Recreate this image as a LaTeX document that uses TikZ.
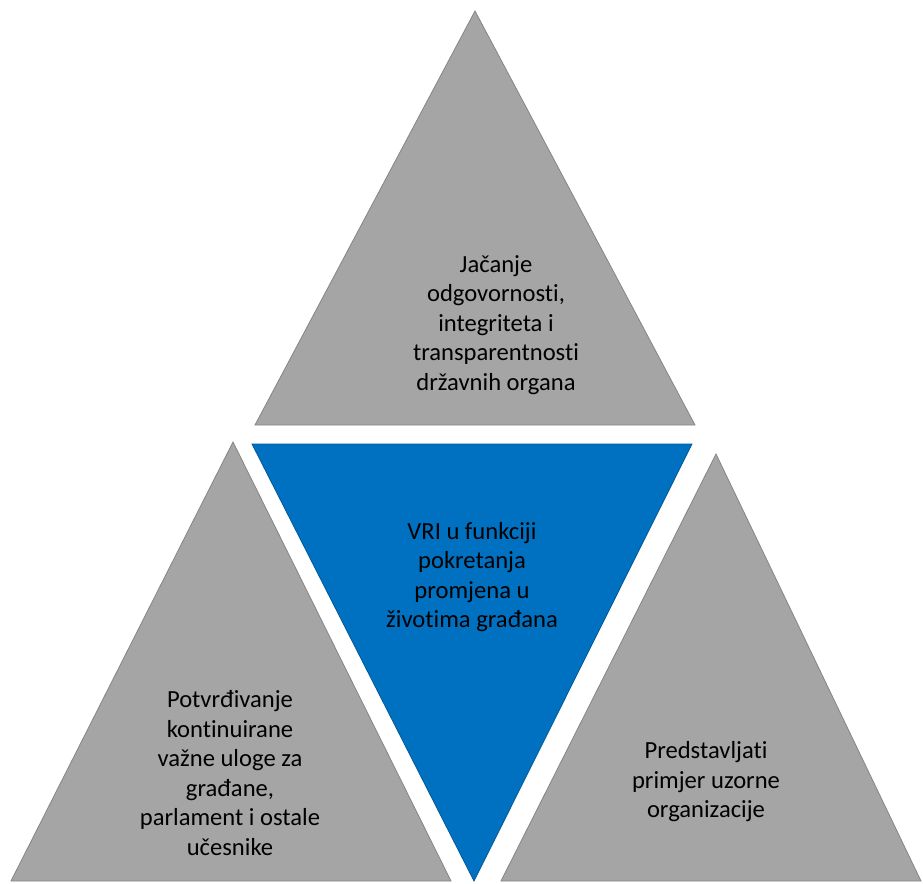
\documentclass[tikz,border=0pt]{standalone}
\usepackage{fontspec}
\setmainfont[Ligatures=NoCommon]{Carlito}
\usepackage{xcolor}
\usepackage{tikz}

\definecolor{sivo}{HTML}{A5A5A5}
\definecolor{sivorub}{HTML}{858585}
\definecolor{plavo}{HTML}{0070C0}
\definecolor{plavorub}{HTML}{005A9A}

\tikzset{
  sivi/.style={fill=sivo, draw=sivorub, line width=0.8pt},
  plavi/.style={fill=plavo, draw=plavorub, line width=0.8pt},
  tekst/.style={align=center, font=\fontsize{24.6}{29.5}\selectfont, text=black}
}

\begin{document}
\begin{tikzpicture}[x=1pt, y=-1pt]
    \useasboundingbox (0,0) rectangle (923,883);
    % gornji trokut
    \draw [sivi] (475,11) -- (695,425) -- (255,425) -- cycle;
    % srednji (plavi) trokut
    \draw [plavi] (252,444) -- (692,444) -- (474,881) -- cycle;
    % lijevi trokut
    \draw [sivi] (233,442) -- (451,881) -- (11,881) -- cycle;
    % desni trokut
    \draw [sivi] (716,454) -- (921,881) -- (501,881) -- cycle;

    \node [tekst] (gore) at (496,325)
      {Jačanje\\odgovornosti,\\integriteta i\\transparentnosti\\državnih organa};
    \node [tekst] (sredina) at (472,577)
      {VRI u funkciji\\pokretanja\\promjena u\\životima građana};
    \node [tekst] (lijevo) at (230,773)
      {Potvrđivanje\\kontinuirane\\važne uloge za\\građane,\\parlament i ostale\\učesnike};
    \node [tekst] (desno) at (706,782)
      {Predstavljati\\primjer uzorne\\organizacije};
\end{tikzpicture}
\end{document}
